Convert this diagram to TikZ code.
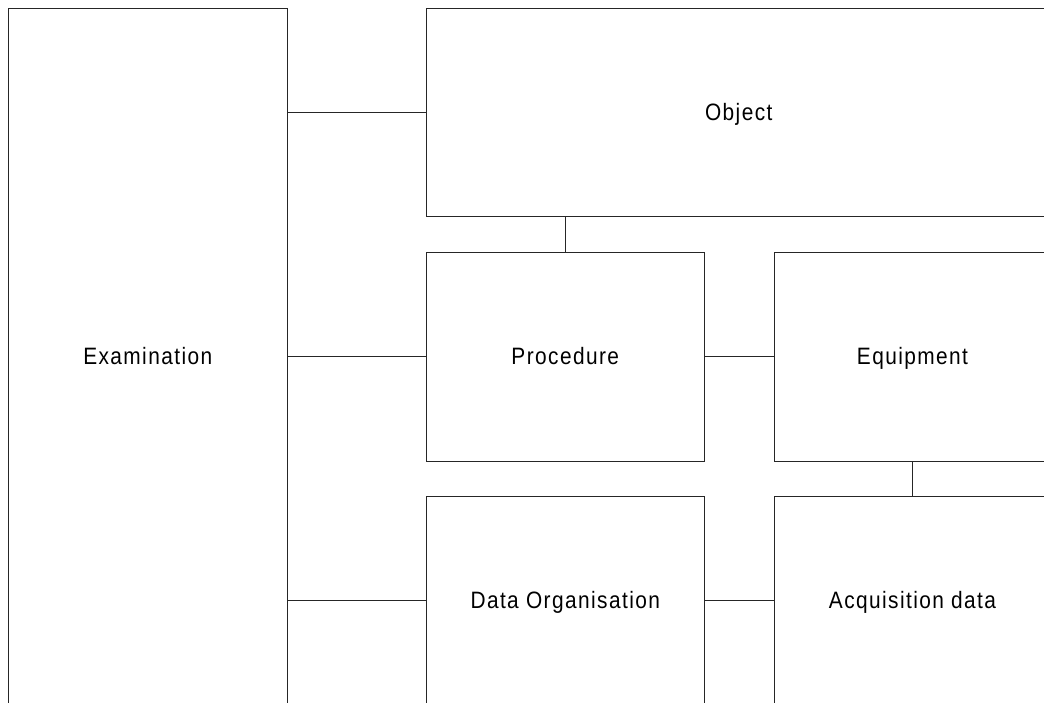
\documentclass[tikz,border=0pt]{standalone}
\usepackage{fontspec}
\setmainfont{Liberation Sans}[FakeStretch=0.88,LetterSpace=6]
\begin{document}
\begin{tikzpicture}[x=1pt,y=-1pt,
  entity/.style={draw=black!85,line width=1pt,fill=white,inner sep=0pt,outer sep=0pt,
    text height=17pt,text depth=1pt,
    font=\fontsize{23.7}{28}\selectfont},
  link/.style={draw=black!85,line width=1pt}]
\useasboundingbox (0,0) rectangle (1044,702);
\clip (0,0) rectangle (1044,702);
% entities
\node[entity,minimum width=278.5pt,minimum height=695pt] (exam) at (147.75,356) {Examination};
\node[entity,minimum width=624.5pt,minimum height=208pt] (obj) at (738.75,112.5) {Object};
\node[entity,minimum width=277.5pt,minimum height=209pt] (proc) at (565.25,356.5) {Procedure};
\node[entity,minimum width=277pt,minimum height=209pt] (equip) at (912.5,356.5) {Equipment};
\node[entity,minimum width=277.5pt,minimum height=208pt] (dorg) at (565.25,600) {Data Organisation};
\node[entity,minimum width=277pt,minimum height=208pt] (acq) at (912.5,600) {Acquisition data};
% relations
\draw[link] (obj.west) -- (obj.west -| exam.east);
\draw[link] (proc.west) -- (proc.west -| exam.east);
\draw[link] (dorg.west) -- (dorg.west -| exam.east);
\draw[link] (proc.north) -- (proc.north |- obj.south);
\draw[link] (proc.east) -- (equip.west);
\draw[link] (equip.south) -- (acq.north);
\draw[link] (dorg.east) -- (acq.west);
\end{tikzpicture}
\end{document}
